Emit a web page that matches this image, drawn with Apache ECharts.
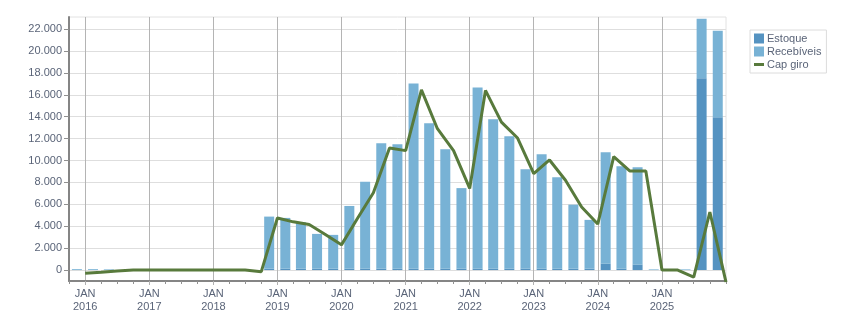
<!DOCTYPE html>
<html>
<head>
<meta charset="utf-8">
<script src="https://cdn.jsdelivr.net/npm/echarts@6/dist/echarts.min.js"></script>
<style>
  html, body { margin: 0; padding: 0; background: #fff; }
  #chart { width: 851px; height: 313px; }
</style>
</head>
<body>
<div id="chart"></div>
<script>
// quarterly periods; bars are drawn at mid-quarter, the line at quarter end
const quarters = [
  '2015-Q4',
  '2016-Q1', '2016-Q2', '2016-Q3', '2016-Q4',
  '2017-Q1', '2017-Q2', '2017-Q3', '2017-Q4',
  '2018-Q1', '2018-Q2', '2018-Q3', '2018-Q4',
  '2019-Q1', '2019-Q2', '2019-Q3', '2019-Q4',
  '2020-Q1', '2020-Q2', '2020-Q3', '2020-Q4',
  '2021-Q1', '2021-Q2', '2021-Q3', '2021-Q4',
  '2022-Q1', '2022-Q2', '2022-Q3', '2022-Q4',
  '2023-Q1', '2023-Q2', '2023-Q3', '2023-Q4',
  '2024-Q1', '2024-Q2', '2024-Q3', '2024-Q4',
  '2025-Q1', '2025-Q2', '2025-Q3', '2025-Q4'
];

const estoque = [
  0,
  0, 0, 0, 0,
  0, 0, 0, 0,
  0, 0, 0, 120,
  120, 120, 120, 120,
  120, 120, 120, 120,
  120, 120, 120, 120,
  120, 120, 120, 120,
  120, 120, 120, 120,
  580, 120, 490, 0,
  0, 0, 17510, 13940
];

const recebiveis = [
  80,
  80, 60, 0, 0,
  0, 0, 0, 0,
  0, 0, 0, 4760,
  4640, 4240, 3180, 3090,
  5730, 7940, 11450, 11360,
  16910, 13270, 10910, 7360,
  16540, 13640, 12090, 9090,
  10450, 8360, 5850, 4460,
  10180, 9360, 8900, 60,
  0, 60, 5430, 7910
];

const capGiro = [
  -300,
  -200, -80, 0, 0,
  0, 0, 0, 0,
  0, 0, -150, 4750,
  4400, 4150, 3250, 2300,
  4700, 7050, 11150, 10900,
  16450, 12900, 10900, 7450,
  16400, 13500, 12050, 8800,
  10050, 8200, 5750, 4200,
  10350, 9050, 9050, 0,
  0, -650, 5300, -1100
];

const yearLabels = [2016, 2017, 2018, 2019, 2020, 2021, 2022, 2023, 2024, 2025];
const yTicks = [0, 2000, 4000, 6000, 8000, 10000, 12000, 14000, 16000, 18000, 20000, 22000];

function parseQ(q) {
  const parts = q.split('-Q');
  return { y: +parts[0], q: +parts[1] };
}
function midOf(q) {
  const p = parseQ(q);
  return Date.UTC(p.y, (p.q - 1) * 3 + 1, 15);
}
function endOf(q) {
  const p = parseQ(q);
  return Date.UTC(p.y, p.q * 3, 1);
}
function startOf(q) {
  const p = parseQ(q);
  return Date.UTC(p.y, (p.q - 1) * 3, 1);
}
function fmtThousands(v) {
  return String(v).replace(/\B(?=(\d{3})+(?!\d))/g, '.');
}

const xMin = startOf(quarters[0]);
const xMax = endOf(quarters[quarters.length - 1]);
const quarterTicks = [xMin].concat(quarters.map(endOf));
const yearTicks = yearLabels.map(y => Date.UTC(y, 0, 1));

// echarts widens a time axis that carries bars by half a bar on each side,
// so shrink min/max by the same amount to keep it aligned with the tick axes
const gridLeft = 69, gridRight = 125, barW = 10;
const plotW = 851 - gridLeft - gridRight;
const pad = (xMax - xMin) * (barW / 2) / plotW;

const textColor = '#5a6478';
const font = 'Liberation Sans';

const chart = echarts.init(document.getElementById('chart'));
const option = {
  animation: false,
  backgroundColor: '#fff',
  textStyle: { fontFamily: font },
  grid: {
    left: gridLeft, right: gridRight, top: 17, bottom: 32,
    show: true, borderColor: '#e2e2e2', borderWidth: 1
  },
  legend: {
    orient: 'vertical',
    left: 750, top: 30,
    padding: [3, 5, 3, 4],
    itemGap: 2,
    itemWidth: 10, itemHeight: 10,
    borderColor: '#dcdcdc', borderWidth: 1,
    textStyle: { fontFamily: font, fontSize: 11, color: textColor, padding: [0, 0, 0, -2] },
    data: [
      { name: 'Estoque', icon: 'rect' },
      { name: 'Recebíveis', icon: 'rect' },
      { name: 'Cap giro', icon: 'path://M0,0 L10,0 L10,3 L0,3 Z' }
    ]
  },
  xAxis: [
    {
      // data axis
      type: 'time',
      min: xMin + pad, max: xMax - pad,
      show: false
    },
    {
      // quarter ticks and year labels
      type: 'value',
      position: 'bottom',
      min: xMin, max: xMax,
      axisLine: { show: true, onZero: false, lineStyle: { color: '#858585', width: 2 } },
      axisTick: { show: true, length: 3, customValues: quarterTicks, lineStyle: { color: '#909090' } },
      axisLabel: {
        customValues: yearTicks,
        margin: 6,
        color: textColor,
        fontFamily: font,
        fontSize: 11,
        lineHeight: 13,
        formatter: v => 'JAN\n' + new Date(v).getUTCFullYear()
      },
      splitLine: { show: false }
    },
    {
      // year grid lines
      type: 'value',
      position: 'bottom',
      min: xMin, max: xMax,
      axisLine: { show: false },
      axisTick: { show: true, length: 4, customValues: yearTicks, lineStyle: { color: '#b0b0b0' } },
      axisLabel: { show: false },
      splitLine: { show: true, lineStyle: { color: '#b4b4b4', width: 1 } }
    }
  ],
  yAxis: {
    type: 'value',
    min: -1000, max: 23100,
    axisLine: { show: true, onZero: false, lineStyle: { color: '#858585', width: 2 } },
    axisTick: { show: true, length: 5, customValues: yTicks, lineStyle: { color: '#909090' } },
    axisLabel: {
      customValues: yTicks,
      margin: 7,
      color: textColor,
      fontFamily: font,
      fontSize: 11,
      formatter: v => fmtThousands(v)
    },
    splitLine: { show: true, lineStyle: { color: '#dedede', width: 1 } }
  },
  series: [
    {
      name: 'Estoque',
      type: 'bar',
      stack: 'total',
      barWidth: barW,
      xAxisIndex: 0,
      itemStyle: { color: '#5593c1' },
      data: quarters.map((q, i) => [midOf(q), estoque[i]])
    },
    {
      name: 'Recebíveis',
      type: 'bar',
      stack: 'total',
      barWidth: barW,
      xAxisIndex: 0,
      itemStyle: { color: '#78b2d5' },
      data: quarters.map((q, i) => [midOf(q), recebiveis[i]])
    },
    {
      name: 'Cap giro',
      type: 'line',
      symbol: 'none',
      xAxisIndex: 0,
      z: 5,
      lineStyle: { color: '#587a3c', width: 3 },
      itemStyle: { color: '#587a3c' },
      data: quarters.map((q, i) => [endOf(q), capGiro[i]])
    }
  ]
};
chart.setOption(option);
window.addEventListener('resize', chart.resize);
</script>
</body>
</html>
